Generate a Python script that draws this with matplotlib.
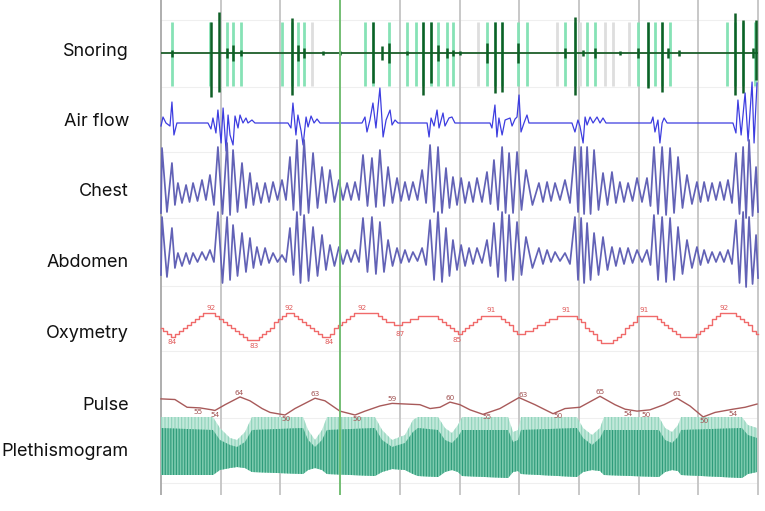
import numpy as np
import matplotlib
matplotlib.use("Agg")
import matplotlib.pyplot as plt

plt.rcParams["hatch.linewidth"] = 0.8

# ---------------- data (time in seconds, 30 s per grid division) ----------------
channels = ["Snoring", "Air flow", "Chest", "Abdomen", "Oxymetry", "Pulse", "Plethismogram"]
record_span = [0.0, 300.0]
grid_step = 30
cursor_t = 90

# Snoring: event bars (mint), ignored events (grey), snore bursts (dark green)
snore_bar_t = [5.5, 24.6, 33.2, 36.2, 40.2, 60.8, 65.8, 68.8, 71.9, 102.5, 106.5, 114.6,
               123.6, 128.1, 131.7, 135.7, 139.2, 143.7, 146.7, 163.8, 167.8, 171.4, 179.4,
               183.9, 203.0, 208.0, 214.1, 218.1, 239.7, 244.7, 248.2, 251.8, 255.8, 284.4,
               288.4, 292.5, 298.5]
snore_gray_t = [75.9, 159.3, 199.0, 210.5, 223.1, 227.1, 235.2]
snore_spike_t = [5.5, 25.1, 29.1, 33.2, 36.2, 40.2, 65.8, 68.8, 71.9, 81.4, 89.9, 106.5,
                 111.1, 114.6, 123.6, 131.7, 135.7, 139.2, 143.7, 146.7, 150.2, 163.8, 167.8,
                 171.4, 179.4, 203.0, 208.0, 212.1, 218.1, 230.6, 239.7, 244.7, 251.8, 254.8,
                 260.3, 288.4, 292.5, 297.5, 299.0]
snore_spike_hi = [3, 31, 41, 5, 8, 3, 35, 8, 5, 2, 2, 31, 7, 10, 2, 31, 31, 8, 5, 3, 2, 10, 31,
                  31, 10, 5, 36, 3, 5, 2, 5, 31, 31, 5, 3, 40, 33, 5, 33]
snore_spike_lo = [-4, -44, -39, -5, -8, -3, -42, -8, -5, -2, -2, -30, -7, -10, -2, -42, -30, -8,
                  -5, -3, -2, -10, -40, -39, -10, -5, -42, -3, -5, -2, -5, -35, -39, -5, -3, -42,
                  -40, -5, -27]

# Air flow
air_t = [0, 1.0, 2.5, 4.5, 5.5, 6.5, 8.0, 23.6, 25.1, 26.1, 27.6, 28.6, 30.2, 31.2, 32.7, 33.7,
         34.7, 36.2, 37.2, 38.7, 39.7, 41.2, 42.7, 43.7, 45.7, 47.2, 63.8, 65.3, 66.3, 67.8, 68.8,
         70.4, 71.4, 72.9, 73.9, 75.4, 76.9, 78.4, 79.9, 101.0, 102.5, 103.5, 105.0, 106.5, 108.0,
         110.0, 111.6, 113.1, 115.1, 116.1, 117.6, 119.1, 133.7, 134.7, 135.7, 137.2, 138.7,
         139.7, 141.7, 142.7, 144.7, 146.2, 147.7, 165.3, 166.3, 167.8, 168.8, 169.8, 171.4,
         172.9, 175.4, 176.4, 177.9, 178.9, 179.9, 180.9, 182.4, 183.9, 184.9, 206.5, 208.0,
         209.5, 210.5, 212.1, 213.1, 214.1, 215.6, 217.1, 219.1, 220.6, 222.1, 223.6, 246.2,
         247.2, 248.2, 249.7, 250.7, 251.8, 252.8, 254.3, 287.4, 288.9, 289.9, 291.5, 293.5,
         295.0, 297.0, 298.0, 299.5]
air_v = [-3, 6, 0, -3, 21, -12, 0, 0, -6, 5, -10, 13, -20, 15, -28, 8, -12, -22, 7, -5, 8, 0, 5,
         0, 3, 0, 0, -5, 20, -12, 8, -8, -22, 6, -4, 7, 0, 4, 0, 0, 6, -9, 3, 20, -5, 35, -14, 3,
         13, -2, 3, 0, 0, -14, 5, -3, 13, -5, 10, -3, 5, 6, 0, 0, -5, 18, -14, 5, -12, 3, 5, -3,
         4, 6, 28, -9, 0, 8, 0, 0, -9, 3, -3, -20, 6, -2, 6, 0, 6, 0, 5, 0, 0, 6, -9, 3, -20, 0,
         5, 0, 0, -10, 23, -12, 30, -18, 41, -20, 40]

# Chest / abdomen effort: breath peak times, peak heights and following trough levels
breath_t = [0.5, 5.5, 8.5, 12.6, 16.1, 20.6, 24.6, 28.6, 33.2, 36.2, 40.7, 44.7, 48.2, 52.3,
            56.3, 60.8, 64.8, 68.3, 71.9, 76.4, 80.9, 84.9, 89.4, 93.5, 97.5, 101.5, 106.0,
            110.0, 114.1, 118.6, 122.6, 126.6, 131.2, 135.2, 139.2, 143.2, 146.7, 150.8, 154.8,
            158.8, 163.8, 167.3, 171.4, 174.9, 178.9, 183.4, 189.9, 194.0, 198.0, 203.0, 208.0,
            211.1, 214.1, 217.6, 222.1, 226.6, 230.6, 234.7, 239.2, 244.2, 247.7, 251.8, 255.8,
            259.8, 264.3, 269.3, 272.9, 276.9, 280.9, 284.9, 288.9, 292.5, 295.5, 299.0]
chest_peak = [59, 44, 24, 22, 24, 27, 32, 60, 64, 57, 44, 34, 24, 24, 25, 27, 50, 67, 67, 54,
              40, 37, 27, 24, 25, 52, 49, 57, 40, 29, 25, 25, 37, 62, 60, 39, 30, 29, 25, 29,
              35, 47, 60, 54, 55, 37, 24, 25, 24, 27, 60, 60, 60, 57, 34, 35, 25, 24, 29, 29,
              60, 60, 59, 50, 32, 25, 25, 24, 25, 27, 54, 60, 67, 40]
chest_trough = [-6, -5, 2, 4, 5, 6, 7, 2, -7, -8, -5, -1, 2, 4, 5, 7, 7, -3, -8, -6, -1, 4, 5,
                7, 7, 7, 1, 0, 1, 4, 6, 7, 7, 4, -5, -6, -1, 2, 4, 5, 5, 3, -3, -6, -6, -3, 2, 5,
                6, 7, 4, -5, -7, -7, -3, 2, 4, 5, 6, 5, 1, -7, -8, -6, -1, 3, 5, 6, 7, 7, 4, -7,
                -11, -9, -5]
abd_peak = [45, 34, 9, 9, 9, 10, 12, 50, 45, 37, 29, 24, 15, 14, 9, 7, 34, 50, 47, 35, 27, 17,
            15, 12, 12, 44, 45, 40, 22, 14, 12, 10, 14, 42, 50, 34, 22, 17, 14, 14, 22, 39, 50,
            47, 40, 25, 14, 12, 10, 9, 45, 44, 39, 29, 25, 15, 14, 14, 12, 12, 47, 45, 44, 35,
            22, 15, 12, 10, 10, 12, 42, 50, 45, 27]
abd_trough = [-13, -15, -6, -4, -2, 0, 2, 0, -21, -18, -14, -10, -6, -3, -1, 0, 0, -13, -21,
              -19, -14, -8, -4, -2, 0, 0, -10, -12, -10, -4, -1, 0, 1, -3, -18, -20, -14, -8,
              -4, -2, -1, -4, -15, -19, -18, -13, -6, -2, 0, 1, -2, -18, -21, -18, -13, -8, -4,
              -2, -1, 0, -3, -18, -20, -18, -12, -6, -3, -1, 0, 0, -2, -21, -25, -22, -16]

# Oxymetry (SpO2 %, one value every 2 s) and its printed extrema
spo2_step = 2
spo2 = [87, 86, 85, 84,
        85, 86, 87, 88, 89, 90, 91, 92,
        92, 92,
        91, 90, 89, 88, 87, 86, 85, 84, 83,
        83, 83,
        84, 85, 86, 87, 89, 90, 91, 92,
        92,
        91, 90, 89, 88, 87, 86, 85, 84,
        84,
        85, 87, 88, 89, 90, 91, 92,
        92, 92, 92, 92, 92,
        91, 90, 89, 89, 88, 88,
        89, 89, 90, 90, 91, 91, 91, 91, 91,
        90, 89, 88, 87, 86, 85,
        86, 87, 88, 89, 90, 91,
        91, 91, 91, 91,
        90, 89, 88, 86, 85,
        85,
        86, 86, 87, 88, 88, 89, 90, 90, 91,
        91, 91, 91, 91,
        90, 89, 87, 86, 85, 83, 82,
        82, 82,
        83, 84, 85, 87, 88, 89, 91,
        91, 91, 91, 91,
        90, 89, 88, 87, 86, 85, 84,
        84, 84, 84,
        85, 86, 87, 88, 90, 91, 92,
        92, 92, 92,
        91, 90, 89, 88, 86, 85]
spo2_lab_t = [5.5, 25.1, 46.7, 64.3, 84.4, 101.0, 120.1, 148.7, 165.8, 203.5, 242.7, 282.9]
spo2_lab = ["84", "92", "83", "92", "84", "92", "87", "85", "91", "91", "91", "92"]

# Pulse rate (bpm) and its printed extrema
pulse_t = [0, 7.0, 13.1, 19.6, 25.6, 27.1, 32.2, 39.7, 44.7, 50.8, 54.8, 62.3, 67.3, 77.4,
           82.4, 89.9, 95.0, 97.5, 102.5, 110.0, 116.1, 130.1, 135.2, 140.2, 145.2, 150.2,
           155.3, 161.8, 170.3, 179.9, 187.9, 197.0, 203.0, 210.5, 220.6, 228.1, 233.2, 239.2,
           245.7, 252.8, 259.3, 265.8, 272.4, 278.4, 287.4, 293.5, 299.5]
pulse_v = [62.5, 62, 56, 55.5, 54, 53.5, 58, 64, 61, 55, 52, 50, 55, 63, 61, 53, 51, 50, 53,
           57, 59, 58, 55, 56, 60, 58, 54, 50.5, 55, 63.5, 58, 51, 55, 56, 64.5, 58, 54.5, 53,
           54, 58, 63, 57, 48.5, 52, 54.5, 56, 58.5]
pulse_lab_t = [18.6, 27.1, 39.2, 62.8, 77.4, 98.5, 116.1, 145.2, 163.8, 181.9, 199.5, 220.6,
               234.7, 243.7, 259.3, 272.9, 287.4]
pulse_lab = ["55", "54", "64", "50", "63", "50", "59", "60", "55", "63", "50", "65", "54",
             "50", "61", "50", "54"]

# Plethysmogram envelope: outer top, dense (dark) top, bottom
pleth_t = [0, 26.1, 29.6, 34.7, 38.2, 42.2, 45.7, 71.4, 73.9, 77.4, 80.9, 83.4, 107.5, 111.1,
           116.1, 122.6, 126.6, 129.1, 139.2, 142.7, 146.2, 149.2, 151.3, 174.4, 176.9, 179.4,
           180.9, 209.0, 212.1, 216.6, 220.6, 222.6, 250.2, 253.3, 256.8, 259.8, 261.3, 291.9,
           294.9, 299.5]
pleth_top = [63, 63, 52, 42, 40, 48, 63, 63, 50, 40, 50, 63, 63, 50, 40, 45, 60, 63, 63, 52,
             47, 55, 63, 63, 48, 50, 63, 63, 52, 45, 52, 63, 63, 52, 48, 55, 63, 63, 55, 52]
pleth_mid = [52, 50, 40, 35, 33, 38, 50, 52, 40, 33, 40, 50, 52, 40, 33, 37, 48, 52, 50, 40,
             37, 43, 50, 50, 38, 40, 50, 52, 42, 35, 42, 50, 50, 40, 37, 43, 50, 52, 45, 42]
pleth_bot = [5, 5, 10, 12, 13, 12, 8, 6, 10, 12, 10, 6, 4, 8, 11, 10, 6, 4, 3, 8, 10, 8, 4, 2,
             8, 9, 6, 3, 8, 10, 9, 5, 3, 8, 10, 9, 5, 2, 6, 8]

# ---------------- layout (pixel rows of each trace) ----------------
def y_snore(v): return 53 - np.asarray(v, float)
def y_air(v): return 123 - np.asarray(v, float)
def y_chest(v): return 207 - np.asarray(v, float)
def y_abd(v): return 262 - np.asarray(v, float)
def y_spo2(v): return 313 + (92 - np.asarray(v, float)) * 3.0
def y_pulse(v): return 415 - (np.asarray(v, float) - 50) * 1.29
def y_pleth(v): return 480 - np.asarray(v, float)

label_base = [56, 126, 196, 267, 338, 410, 456]

fig = plt.figure(figsize=(7.65, 5.11), dpi=100)
ax = fig.add_axes([0, 0, 1, 1])
ax.set_xlim(-80.9, 303.5)
ax.set_ylim(511, 0)
ax.axis("off")

# faint horizontal rules
for yy in [20, 87, 152, 218, 286, 351, 418, 483]:
    ax.hlines(yy, record_span[0], record_span[1], color="#efefef", lw=0.8, zorder=0)

# vertical grid
for k, gt in enumerate(np.arange(record_span[0], record_span[1] + 1, grid_step)):
    ax.vlines(gt, 0, 495, color="#c4c4c4" if k else "#a8a8a8", lw=1.3, zorder=1)
ax.vlines(cursor_t, 0, 495, color="#6fbf6f", lw=1.3, zorder=6)

# snoring
ax.vlines(snore_gray_t, y_snore(31), y_snore(-33), color="#dedede", lw=2.0, zorder=2)
ax.vlines(snore_bar_t, y_snore(31), y_snore(-33), color="#86e2b6", lw=2.0, zorder=2)
ax.hlines(y_snore(0), record_span[0], record_span[1], color="#1c5e2a", lw=1.3, zorder=3)
ax.vlines(snore_spike_t, y_snore(snore_spike_hi), y_snore(snore_spike_lo),
          color="#0f5f26", lw=1.8, zorder=4)

# air flow
ax.plot(air_t, y_air(air_v), color="#3d3de0", lw=0.9, zorder=5)

# chest / abdomen zigzag built from read peaks and troughs
bt = np.asarray(breath_t)
tr_t = np.concatenate([[record_span[0]], (bt[:-1] + bt[1:]) / 2, [record_span[1]]])

def zigzag(peaks, troughs):
    xs, ys = [tr_t[0]], [troughs[0]]
    for i in range(len(bt)):
        xs += [bt[i], tr_t[i + 1]]
        ys += [peaks[i], troughs[i + 1]]
    return np.array(xs), np.array(ys)

cx, cy = zigzag(chest_peak, chest_trough)
ax.plot(cx, y_chest(cy), color="#6262b6", lw=1.25, zorder=5, solid_joinstyle="round")
axx, ayy = zigzag(abd_peak, abd_trough)
ax.plot(axx, y_abd(ayy), color="#6262b6", lw=1.25, zorder=5, solid_joinstyle="round")

# oxymetry
st = np.arange(len(spo2)) * spo2_step
ax.step(st, y_spo2(spo2), where="mid", color="#f06a6a", lw=1.0, zorder=5)
for t, s in zip(spo2_lab_t, spo2_lab):
    v = int(s)
    above = v >= 89
    ax.text(t, y_spo2(v) + (-2.5 if above else 2.5), s, color="#e05a5a", fontsize=5.2,
            ha="center", va="bottom" if above else "top", family="DejaVu Sans", zorder=7)

# pulse
ax.plot(pulse_t, y_pulse(pulse_v), color="#a85a5a", lw=1.0, zorder=5)
for t, s in zip(pulse_lab_t, pulse_lab):
    v = float(np.interp(t, pulse_t, pulse_v))
    above = int(s) >= 57
    ax.text(t, y_pulse(v) + (-1 if above else 1.5), s, color="#a05050", fontsize=5.2,
            ha="center", va="bottom" if above else "top", family="DejaVu Sans", zorder=7)

# plethysmogram
ax.fill_between(pleth_t, y_pleth(pleth_bot), y_pleth(pleth_top), facecolor="#c2e8da",
                edgecolor="#8fd3bb", hatch="|||||", lw=0, zorder=3)
ax.fill_between(pleth_t, y_pleth(pleth_bot), y_pleth(pleth_mid), facecolor="#7ccaae",
                edgecolor="#2e9b7a", hatch="||||||", lw=0, zorder=4)

# channel labels
for name, yb in zip(channels, label_base):
    ax.text(-16.1, yb, name, ha="right", va="baseline", fontsize=13,
            family=["Inter", "DejaVu Sans"], color="#111111")

fig.savefig("out.png", dpi=100)
